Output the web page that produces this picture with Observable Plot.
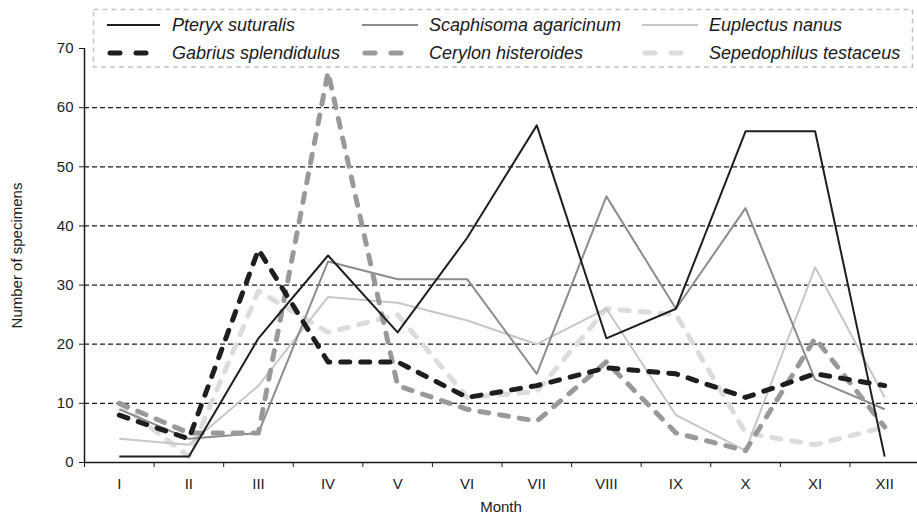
<!DOCTYPE html>
<html>
<head>
<meta charset="utf-8">
<script src="https://cdn.jsdelivr.net/npm/d3@7"></script>
<script src="https://cdn.jsdelivr.net/npm/@observablehq/plot@0.6"></script>
<style>
  html, body { margin: 0; padding: 0; background: white; }
  #wrap { position: relative; width: 917px; height: 521px; font-family: "Liberation Sans", Arial, sans-serif; }
  #legend { position: absolute; left: 0; top: 0; }
</style>
</head>
<body>
<div id="wrap"></div>
<script>
const months = ["I","II","III","IV","V","VI","VII","VIII","IX","X","XI","XII"];
const seriesNames = ["Pteryx suturalis","Scaphisoma agaricinum","Euplectus nanus","Gabrius splendidulus","Cerylon histeroides","Sepedophilus testaceus"];
const pteryx       = [1, 1, 21, 35, 22, 38, 57, 21, 26, 56, 56, 1];
const scaphisoma   = [9, 4, 5, 34, 31, 31, 15, 45, 26, 43, 14, 9];
const euplectus    = [4, 3, 13, 28, 27, 24, 20, 26, 8, 2, 33, 11];
const gabrius      = [8, 4, 36, 17, 17, 11, 13, 16, 15, 11, 15, 13];
const cerylon      = [10, 5, 5, 66, 13, 9, 7, 17, 5, 2, 21, 6];
const sepedophilus = [10, 1, 29, 22, 25, 11, 12, 26, 25, 5, 3, 6];
const yTicks = [0, 10, 20, 30, 40, 50, 60, 70];
const gridValues = [10, 20, 30, 40, 50, 60];

const values = [pteryx, scaphisoma, euplectus, gabrius, cerylon, sepedophilus];
const styles = [
  {stroke: "#1e1e1e", strokeWidth: 2, dash: null},
  {stroke: "#8c8c8c", strokeWidth: 2, dash: null},
  {stroke: "#c6c6c6", strokeWidth: 2, dash: null},
  {stroke: "#1e1e1e", strokeWidth: 5, dash: "9,11"},
  {stroke: "#999999", strokeWidth: 5, dash: "9,11"},
  {stroke: "#dcdcdc", strokeWidth: 5, dash: "9,11"}
];
const tables = values.map(arr => arr.map((v, i) => ({m: i + 1, v})));
const boundaries = d3.range(0.5, 13, 1);
const monthTable = months.map((name, i) => ({m: i + 1, name}));

const drawOrder = [5, 2, 1, 4, 0, 3];
const lineMarks = drawOrder.map(k => Plot.line(tables[k], {
  x: "m", y: "v", stroke: styles[k].stroke, strokeWidth: styles[k].strokeWidth,
  strokeDasharray: styles[k].dash || undefined, strokeLinecap: styles[k].dash ? "round" : "butt",
  strokeLinejoin: "round"
}));

const chart = Plot.plot({
  width: 917, height: 521,
  marginLeft: 84, marginRight: 0, marginTop: 48, marginBottom: 59,
  style: {fontFamily: "Liberation Sans, Arial, sans-serif", fontSize: "15px", background: "white", overflow: "visible", color: "#1a1a1a"},
  x: {domain: [0.5, 12.5], range: [84, 919], ticks: boundaries, tickFormat: () => "", tickSize: 5, label: null},
  y: {domain: [0, 70], ticks: yTicks, tickSize: 5, tickPadding: 6, label: null},
  marks: [
    Plot.ruleY(gridValues, {stroke: "#1a1a1a", strokeWidth: 1.3, strokeDasharray: "5,3"}),
    ...lineMarks,
    Plot.ruleY([0], {stroke: "#1a1a1a", strokeWidth: 1.5}),
    Plot.ruleX([0.5], {stroke: "#1a1a1a", strokeWidth: 1.5}),
    Plot.text(monthTable, {x: "m", y: () => 0, text: "name", dy: 22, fontSize: 15, fill: "#1a1a1a"}),
    Plot.text(["Number of specimens"], {frameAnchor: "left", textAnchor: "middle", dx: -67, rotate: -90, fontSize: 15, fill: "#1a1a1a"}),
    Plot.text(["Month"], {frameAnchor: "bottom", textAnchor: "middle", lineAnchor: "middle", dy: 45, fontSize: 15, fill: "#1a1a1a"})
  ]
});
const wrap = document.getElementById("wrap");
wrap.appendChild(chart);

// legend overlay
const svgNS = "http://www.w3.org/2000/svg";
const lg = document.createElementNS(svgNS, "svg");
lg.setAttribute("id", "legend");
lg.setAttribute("width", 917); lg.setAttribute("height", 80);
lg.style.fontFamily = "Liberation Sans, Arial, sans-serif";
wrap.appendChild(lg);
const box = document.createElementNS(svgNS, "rect");
box.setAttribute("x", 93.5); box.setAttribute("y", 9.5);
box.setAttribute("width", 819); box.setAttribute("height", 57.5);
box.setAttribute("fill", "white"); box.setAttribute("stroke", "#c2c2c2");
box.setAttribute("stroke-width", 1.5); box.setAttribute("stroke-dasharray", "5,4");
lg.appendChild(box);
const colX = [{sw: 107, sw2: 160, tx: 172}, {sw: 362, sw2: 418, tx: 429}, {sw: 642, sw2: 698, tx: 709}];
const rowBase = [31, 59];
seriesNames.forEach((name, k) => {
  const c = colX[k % 3];
  const base = rowBase[Math.floor(k / 3)];
  const s = styles[k];
  const ln = document.createElementNS(svgNS, "line");
  const yMid = base - 6;
  if (s.dash) {
    ln.setAttribute("x1", c.sw + 3); ln.setAttribute("x2", c.sw + 46);
    ln.setAttribute("stroke-dasharray", "10,16"); ln.setAttribute("stroke-linecap", "round");
  } else {
    ln.setAttribute("x1", c.sw); ln.setAttribute("x2", c.sw2);
  }
  ln.setAttribute("y1", yMid); ln.setAttribute("y2", yMid);
  ln.setAttribute("stroke", s.stroke); ln.setAttribute("stroke-width", s.strokeWidth);
  lg.appendChild(ln);
  const t = document.createElementNS(svgNS, "text");
  t.setAttribute("x", c.tx); t.setAttribute("y", base);
  t.setAttribute("font-size", 18); t.setAttribute("font-style", "italic");
  t.setAttribute("fill", "#1a1a1a");
  t.textContent = name;
  lg.appendChild(t);
});
</script>
</body>
</html>
